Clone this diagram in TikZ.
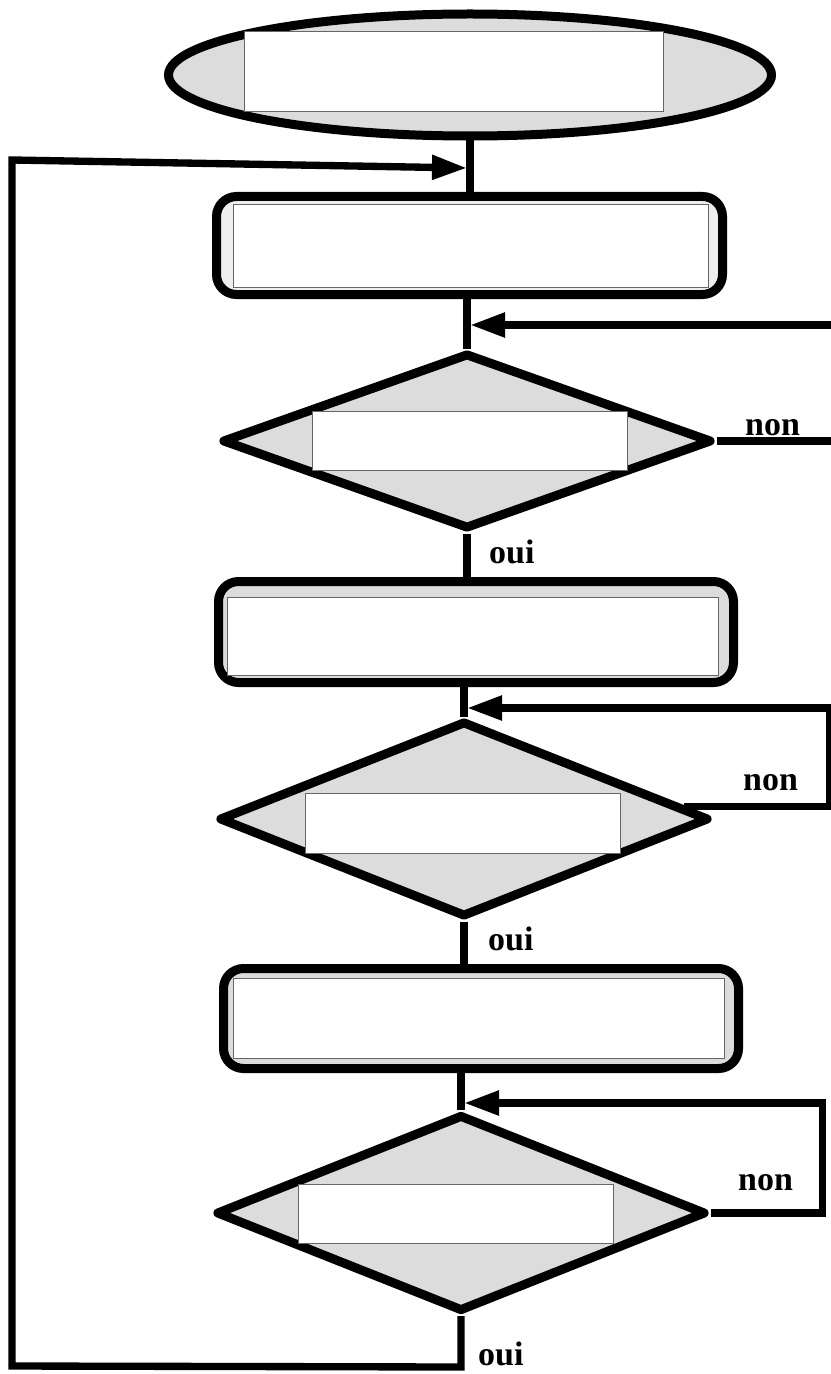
\documentclass[tikz,border=0pt]{standalone}
\usepackage{fontspec}
\setmainfont{Liberation Serif}
\usetikzlibrary{shapes.geometric,arrows.meta,calc}
\definecolor{shade}{HTML}{DCDCDC}
\definecolor{pale}{HTML}{EEEEEE}
\tikzset{
  startstop/.style={ellipse,draw,line width=2.7mm,fill=shade,inner sep=0pt},
  process/.style={rectangle,rounded corners=6mm,draw,line width=2.7mm,fill=shade,inner sep=0pt},
  decision/.style={diamond,draw,line width=2.7mm,fill=shade,inner sep=0pt,line join=round},
  blank/.style={rectangle,draw=black!60,line width=0.3mm,fill=white,inner sep=0pt},
  conn/.style={line width=2.2mm},
  arr/.style={conn,-{Triangle[length=10.5mm,width=7mm]}},
  answer/.style={font=\bfseries\fontsize{29}{29}\selectfont,inner sep=0pt,anchor=base west}
}
\begin{document}
\begin{tikzpicture}[x=0.3mm,y=-0.3mm]
\useasboundingbox (0,0) rectangle (831,1374);
% blocks
\node[startstop,minimum width=180.9mm,minimum height=36.6mm] (start) at (470,75) {};
\node[blank,minimum width=125.7mm,minimum height=24mm] (start-in) at (453.5,72) {};
\node[process,fill=pale,minimum width=151.8mm,minimum height=29.4mm] (box1) at (469.5,245.5) {};
\node[blank,minimum width=142.5mm,minimum height=24.6mm] (box1-in) at (470.5,246) {};
\node[decision,minimum width=147mm,minimum height=52.8mm] (test1) at (467,441) {};
\node[blank,minimum width=94.5mm,minimum height=17.7mm] (test1-in) at (469.5,440.5) {};
\node[process,minimum width=154.5mm,minimum height=30.3mm] (box2) at (476,632) {};
\node[blank,minimum width=147.3mm,minimum height=23.4mm] (box2-in) at (472.5,636) {};
\node[decision,minimum width=147mm,minimum height=58.8mm] (test2) at (464,819) {};
\node[blank,minimum width=94.5mm,minimum height=18mm] (test2-in) at (462.5,823) {};
\node[process,minimum width=154.5mm,minimum height=30mm] (box3) at (481,1018.5) {};
\node[blank,minimum width=147.3mm,minimum height=24mm] (box3-in) at (478.5,1018) {};
\node[decision,minimum width=147mm,minimum height=59.1mm] (test3) at (461,1213) {};
\node[blank,minimum width=94.5mm,minimum height=17.7mm] (test3-in) at (455.5,1213.5) {};

% joins and corners
\coordinate (j1) at (467,168);
\coordinate (j2) at (470,325);
\coordinate (j3) at (467,708);
\coordinate (j4) at (464,1103);
\coordinate (e1) at (840,441);
\coordinate (e2) at (840,325);
\coordinate (c1) at (461,1367);
\coordinate (c2) at (12,1366);
\coordinate (c3) at (12,160);

% links
\draw[conn] (start.south) -- (start.south |- box1.north);
\draw[conn] (test1.north |- box1.south) -- (test1.north);
\draw[conn] (test1.south) -- (test1.south |- box2.north);
\draw[conn] (test2.north |- box2.south) -- (test2.north);
\draw[conn] (test2.south) -- (test2.south |- box3.north);
\draw[conn] (test3.north |- box3.south) -- (test3.north);
\draw[conn] (test1.east) -- (e1);
\draw[arr] (e2) -- (j2);
\draw[arr] ($(test2.north)!0.88!(test2.east)$) -- ++(146,0) |- (j3);
\draw[arr] (test3.east) -- ++(112,0) |- (j4);
\draw[arr] (test3.south) -- (c1) -- (c2) -- (c3) -- (j1);

% answers
\node[answer] (no1) at (745,435) {non};
\node[answer] (no2) at (743,790) {non};
\node[answer] (no3) at (738,1190) {non};
\node[answer] (yes1) at (489,563) {oui};
\node[answer] (yes2) at (488,950) {oui};
\node[answer] (yes3) at (478,1365) {oui};
\end{tikzpicture}
\end{document}
